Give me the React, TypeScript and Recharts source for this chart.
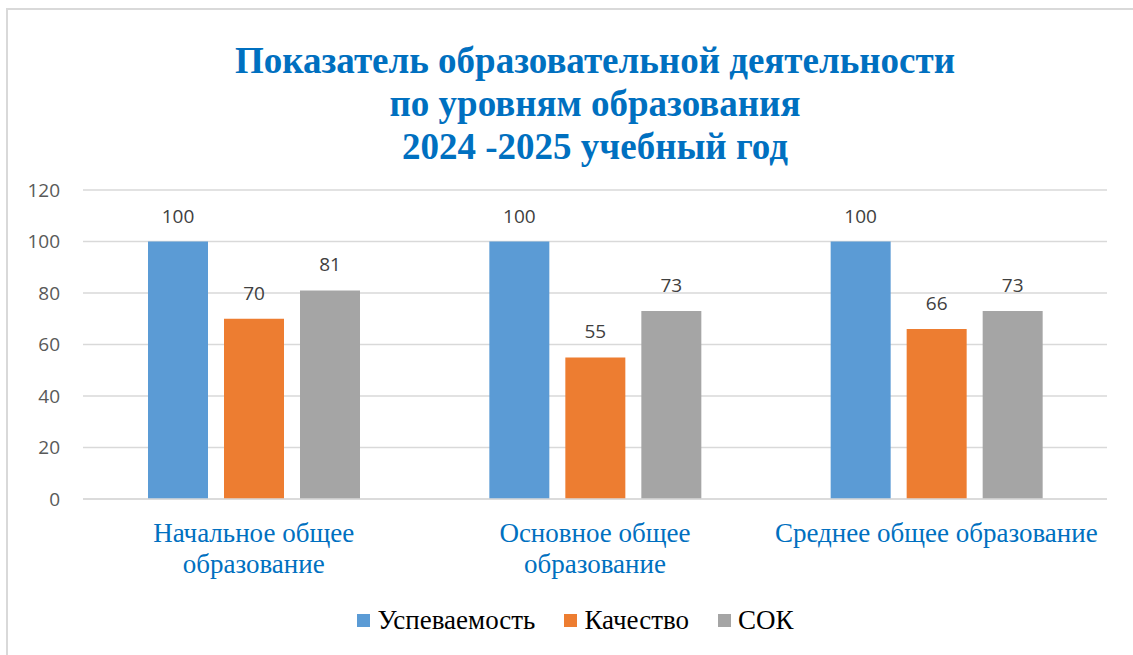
import { BarChart, Bar, XAxis, YAxis, CartesianGrid, Legend, LabelList } from 'recharts';

const categories = ['Начальное общее\nобразование', 'Основное общее\nобразование', 'Среднее общее образование'];
const uspevaemost = [100, 100, 100];
const kachestvo = [70, 55, 66];
const sok = [81, 73, 73];
const yTicks = [0, 20, 40, 60, 80, 100, 120];

const seriesNames = ['Успеваемость', 'Качество', 'СОК'];
const colors = ['#5B9BD5', '#ED7D31', '#A5A5A5'];

const data = categories.map((name, i) => ({
  name,
  s0: uspevaemost[i],
  s1: kachestvo[i],
  s2: sok[i],
}));

const serif = "'Liberation Serif', 'DejaVu Serif', serif";
const sans = "'Open Sans', 'Liberation Sans', sans-serif";

function CategoryTick(props: any) {
  const { x, y, payload } = props;
  const lines = String(payload.value).split('\n');
  return (
    <text x={x} y={y + 35} textAnchor="middle" fill="#0070C0" style={{ fontFamily: serif, fontSize: 27 }}>
      {lines.map((ln, i) => (
        <tspan key={i} x={x} dy={i === 0 ? 0 : 31}>
          {ln}
        </tspan>
      ))}
    </text>
  );
}

function LegendContent() {
  return (
    <div style={{ display: 'flex', justifyContent: 'center', alignItems: 'center', paddingLeft: 18, height: 40 }}>
      {seriesNames.map((n, i) => (
        <div key={n} style={{ display: 'flex', alignItems: 'center', marginRight: i < 2 ? 29 : 0 }}>
          <span style={{ width: 13, height: 13, background: colors[i], display: 'inline-block', marginRight: 7 }} />
          <span style={{ fontFamily: serif, fontSize: 27, color: '#000' }}>{n}</span>
        </div>
      ))}
    </div>
  );
}

export default function App() {
  return (
    <div style={{ position: 'absolute', left: 0, top: 0, width: 1133, height: 655, overflow: 'hidden', background: '#fff' }}>
      <div
        style={{
          position: 'absolute',
          left: 6,
          top: 8,
          width: 1200,
          height: 700,
          border: '2px solid #D9D9D9',
        }}
      />
      <div
        style={{
          position: 'absolute',
          left: 0,
          top: 39,
          width: 1190,
          textAlign: 'center',
          fontFamily: serif,
          fontWeight: 'bold',
          fontSize: 37,
          lineHeight: '43px',
          color: '#0070C0',
        }}
      >
        <div>Показатель образовательной деятельности</div>
        <div>по уровням образования</div>
        <div>2024 -2025 учебный год</div>
      </div>
      <div style={{ position: 'absolute', left: 0, top: 0 }}>
        <BarChart
          width={1133}
          height={655}
          data={data}
          margin={{ top: 190, right: 26, bottom: 16, left: 0 }}
          barSize={60}
          barGap={16}
        >
          <CartesianGrid vertical={false} stroke="#D9D9D9" strokeWidth={1.5} />
          <XAxis
            dataKey="name"
            axisLine={{ stroke: '#D9D9D9', strokeWidth: 1.5 }}
            tickLine={false}
            height={100}
            interval={0}
            tick={<CategoryTick />}
          />
          <YAxis
            width={83}
            domain={[0, 120]}
            ticks={yTicks}
            axisLine={false}
            tickLine={false}
            tickMargin={17}
            tick={{ fill: '#595959', fontSize: 19, fontFamily: sans }}
          />
          <Legend
            verticalAlign="bottom"
            height={40}
            content={<LegendContent />}
            wrapperStyle={{ left: 0, top: 600, width: 1133, height: 40 }}
          />
          {['s0', 's1', 's2'].map((k, i) => (
            <Bar key={k} dataKey={k} name={seriesNames[i]} fill={colors[i]} isAnimationActive={false}>
              <LabelList dataKey={k} position="top" offset={19} fill="#404040" fontSize={19} fontFamily={sans} />
            </Bar>
          ))}
        </BarChart>
      </div>
    </div>
  );
}
